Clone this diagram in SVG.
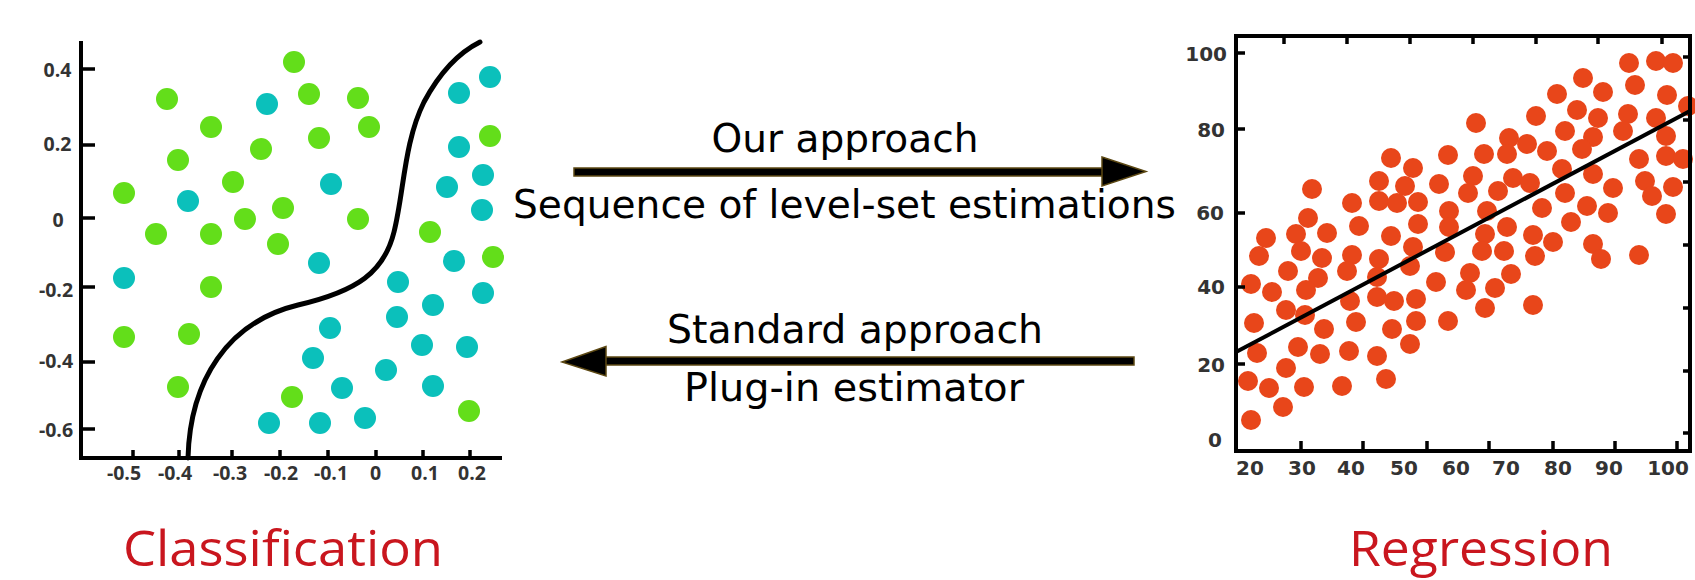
<svg xmlns="http://www.w3.org/2000/svg" width="1695" height="580" viewBox="0 0 1695 580">
<style>
.ax{stroke:#000;stroke-width:4;fill:none;stroke-linecap:square}
.tk{stroke:#000;stroke-width:3.5;fill:none}
.g{fill:#63DE1A}
.t{fill:#0BC0BB}
.r{fill:#E8461A}
.cl{font-family:"Open Sans",sans-serif;font-weight:bold;font-size:19.5px;fill:#333;text-anchor:middle}
.rl{font-family:"DejaVu Sans",sans-serif;font-weight:bold;font-size:20px;fill:#333}
.lab{font-family:"DejaVu Sans",sans-serif;font-size:39px;fill:#000;text-anchor:middle}
.title{font-family:"Open Sans",sans-serif;font-size:49px;fill:#C9161E}
.shaft{fill:#000;stroke:#5C4813;stroke-width:1.5}
</style>
<rect width="1695" height="580" fill="#fff"/>

<g id="classification">
  <g id="class-dots-green">
    <circle class="g" cx="167" cy="99" r="11"/><circle class="g" cx="211" cy="127" r="11"/>
    <circle class="g" cx="178" cy="160" r="11"/><circle class="g" cx="124" cy="193" r="11"/>
    <circle class="g" cx="233" cy="182" r="11"/><circle class="g" cx="245" cy="219" r="11"/>
    <circle class="g" cx="156" cy="234" r="11"/><circle class="g" cx="211" cy="234" r="11"/>
    <circle class="g" cx="294" cy="62" r="11"/><circle class="g" cx="309" cy="94" r="11"/>
    <circle class="g" cx="358" cy="98" r="11"/><circle class="g" cx="369" cy="127" r="11"/>
    <circle class="g" cx="319" cy="138" r="11"/><circle class="g" cx="261" cy="149" r="11"/>
    <circle class="g" cx="283" cy="208" r="11"/><circle class="g" cx="358" cy="219" r="11"/>
    <circle class="g" cx="278" cy="244" r="11"/><circle class="g" cx="490" cy="136" r="11"/>
    <circle class="g" cx="430" cy="232" r="11"/><circle class="g" cx="211" cy="287" r="11"/>
    <circle class="g" cx="124" cy="337" r="11"/><circle class="g" cx="189" cy="334" r="11"/>
    <circle class="g" cx="178" cy="387" r="11"/><circle class="g" cx="493" cy="257" r="11"/>
    <circle class="g" cx="292" cy="397" r="11"/><circle class="g" cx="469" cy="411" r="11"/>
  </g>
  <g id="class-dots-teal">
    <circle class="t" cx="267" cy="104" r="11"/><circle class="t" cx="188" cy="201" r="11"/>
    <circle class="t" cx="331" cy="184" r="11"/><circle class="t" cx="459" cy="93" r="11"/>
    <circle class="t" cx="490" cy="77" r="11"/><circle class="t" cx="459" cy="147" r="11"/>
    <circle class="t" cx="483" cy="175" r="11"/><circle class="t" cx="447" cy="187" r="11"/>
    <circle class="t" cx="482" cy="210" r="11"/><circle class="t" cx="124" cy="278" r="11"/>
    <circle class="t" cx="319" cy="263" r="11"/><circle class="t" cx="398" cy="282" r="11"/>
    <circle class="t" cx="454" cy="261" r="11"/><circle class="t" cx="483" cy="293" r="11"/>
    <circle class="t" cx="433" cy="305" r="11"/><circle class="t" cx="397" cy="317" r="11"/>
    <circle class="t" cx="330" cy="328" r="11"/><circle class="t" cx="422" cy="345" r="11"/>
    <circle class="t" cx="467" cy="347" r="11"/><circle class="t" cx="313" cy="358" r="11"/>
    <circle class="t" cx="386" cy="370" r="11"/><circle class="t" cx="342" cy="388" r="11"/>
    <circle class="t" cx="433" cy="386" r="11"/><circle class="t" cx="269" cy="423" r="11"/>
    <circle class="t" cx="320" cy="423" r="11"/><circle class="t" cx="365" cy="418" r="11"/>
  </g>
  <path id="boundary" d="M188,458 C190,380 228,322 298,305 C358,291 384,272 394,232 C404,192 404,142 424,102 C440,72 460,52 480,42" fill="none" stroke="#000" stroke-width="5" stroke-linecap="round"/>
  <g id="class-axes">
    <path class="ax" d="M81,43 V458 H500"/>
    <path class="tk" d="M81,69 H95 M81,145 H95 M81,218 H95 M81,287 H95 M81,362 H95 M81,429 H95"/>
    <path class="tk" d="M133,458 V450 M179,458 V450 M232,458 V450 M280,458 V450 M328,458 V450 M376,458 V450 M423,458 V450 M470,458 V450"/>
  </g>
  <g id="class-ylabels">
    <text class="cl" x="57.5" y="77">0.4</text>
    <text class="cl" x="57.5" y="151">0.2</text>
    <text class="cl" x="58" y="227">0</text>
    <text class="cl" x="56" y="297">-0.2</text>
    <text class="cl" x="56" y="368">-0.4</text>
    <text class="cl" x="56" y="437">-0.6</text>
  </g>
  <g id="class-xlabels">
    <text class="cl" x="124" y="480">-0.5</text>
    <text class="cl" x="175" y="480">-0.4</text>
    <text class="cl" x="230" y="480">-0.3</text>
    <text class="cl" x="281" y="480">-0.2</text>
    <text class="cl" x="331" y="480">-0.1</text>
    <text class="cl" x="375.5" y="480">0</text>
    <text class="cl" x="425" y="480">0.1</text>
    <text class="cl" x="472" y="480">0.2</text>
  </g>
  <text id="class-title" class="title" x="123" y="566" textLength="320" lengthAdjust="spacingAndGlyphs">Classification</text>
</g>

<g id="regression">
  <g id="reg-dots">
    <circle class="r" cx="1391" cy="158" r="10"/><circle class="r" cx="1413" cy="168" r="10"/><circle class="r" cx="1379" cy="181" r="10"/>
    <circle class="r" cx="1405" cy="186" r="10"/><circle class="r" cx="1312" cy="189" r="10"/><circle class="r" cx="1439" cy="184" r="10"/>
    <circle class="r" cx="1379" cy="201" r="10"/><circle class="r" cx="1397" cy="203" r="10"/><circle class="r" cx="1418" cy="202" r="10"/>
    <circle class="r" cx="1352" cy="203" r="10"/><circle class="r" cx="1308" cy="218" r="10"/><circle class="r" cx="1359" cy="226" r="10"/>
    <circle class="r" cx="1418" cy="224" r="10"/><circle class="r" cx="1266" cy="238" r="10"/><circle class="r" cx="1296" cy="234" r="10"/>
    <circle class="r" cx="1327" cy="233" r="10"/><circle class="r" cx="1391" cy="236" r="10"/>
    <circle class="r" cx="1629" cy="63" r="10"/><circle class="r" cx="1656" cy="61" r="10"/><circle class="r" cx="1673" cy="63" r="10"/>
    <circle class="r" cx="1583" cy="78" r="10"/><circle class="r" cx="1635" cy="85" r="10"/><circle class="r" cx="1557" cy="94" r="10"/>
    <circle class="r" cx="1603" cy="92" r="10"/><circle class="r" cx="1667" cy="95" r="10"/><circle class="r" cx="1688" cy="106" r="10"/>
    <circle class="r" cx="1476" cy="123" r="10"/><circle class="r" cx="1536" cy="116" r="10"/><circle class="r" cx="1577" cy="110" r="10"/>
    <circle class="r" cx="1598" cy="118" r="10"/><circle class="r" cx="1628" cy="114" r="10"/><circle class="r" cx="1656" cy="118" r="10"/>
    <circle class="r" cx="1509" cy="138" r="10"/><circle class="r" cx="1527" cy="144" r="10"/><circle class="r" cx="1565" cy="131" r="10"/>
    <circle class="r" cx="1593" cy="137" r="10"/><circle class="r" cx="1623" cy="131" r="10"/><circle class="r" cx="1666" cy="136" r="10"/>
    <circle class="r" cx="1448" cy="155" r="10"/><circle class="r" cx="1484" cy="154" r="10"/><circle class="r" cx="1507" cy="154" r="10"/>
    <circle class="r" cx="1547" cy="151" r="10"/><circle class="r" cx="1582" cy="149" r="10"/><circle class="r" cx="1639" cy="159" r="10"/>
    <circle class="r" cx="1666" cy="156" r="10"/><circle class="r" cx="1683" cy="159" r="10"/><circle class="r" cx="1473" cy="176" r="10"/>
    <circle class="r" cx="1513" cy="178" r="10"/><circle class="r" cx="1530" cy="183" r="10"/><circle class="r" cx="1562" cy="169" r="10"/>
    <circle class="r" cx="1593" cy="174" r="10"/><circle class="r" cx="1468" cy="193" r="10"/><circle class="r" cx="1498" cy="191" r="10"/>
    <circle class="r" cx="1565" cy="193" r="10"/><circle class="r" cx="1613" cy="188" r="10"/><circle class="r" cx="1645" cy="181" r="10"/>
    <circle class="r" cx="1652" cy="196" r="10"/><circle class="r" cx="1673" cy="187" r="10"/><circle class="r" cx="1449" cy="211" r="10"/>
    <circle class="r" cx="1487" cy="211" r="10"/><circle class="r" cx="1542" cy="208" r="10"/><circle class="r" cx="1587" cy="206" r="10"/>
    <circle class="r" cx="1608" cy="213" r="10"/><circle class="r" cx="1666" cy="214" r="10"/><circle class="r" cx="1449" cy="227" r="10"/>
    <circle class="r" cx="1485" cy="234" r="10"/><circle class="r" cx="1507" cy="227" r="10"/><circle class="r" cx="1533" cy="235" r="10"/>
    <circle class="r" cx="1553" cy="242" r="10"/><circle class="r" cx="1571" cy="222" r="10"/><circle class="r" cx="1593" cy="244" r="10"/>
    <circle class="r" cx="1445" cy="252" r="10"/><circle class="r" cx="1482" cy="251" r="10"/><circle class="r" cx="1504" cy="251" r="10"/>
    <circle class="r" cx="1535" cy="256" r="10"/><circle class="r" cx="1601" cy="259" r="10"/><circle class="r" cx="1639" cy="255" r="10"/>
    <circle class="r" cx="1436" cy="282" r="10"/><circle class="r" cx="1470" cy="273" r="10"/><circle class="r" cx="1466" cy="290" r="10"/>
    <circle class="r" cx="1495" cy="288" r="10"/><circle class="r" cx="1511" cy="274" r="10"/><circle class="r" cx="1485" cy="308" r="10"/>
    <circle class="r" cx="1533" cy="305" r="10"/><circle class="r" cx="1448" cy="321" r="10"/>
    <circle class="r" cx="1259" cy="256" r="10"/><circle class="r" cx="1301" cy="251" r="10"/><circle class="r" cx="1322" cy="258" r="10"/>
    <circle class="r" cx="1352" cy="255" r="10"/><circle class="r" cx="1379" cy="259" r="10"/><circle class="r" cx="1413" cy="247" r="10"/>
    <circle class="r" cx="1288" cy="271" r="10"/><circle class="r" cx="1318" cy="278" r="10"/><circle class="r" cx="1347" cy="271" r="10"/>
    <circle class="r" cx="1377" cy="277" r="10"/><circle class="r" cx="1410" cy="266" r="10"/><circle class="r" cx="1251" cy="284" r="10"/>
    <circle class="r" cx="1272" cy="292" r="10"/><circle class="r" cx="1306" cy="290" r="10"/><circle class="r" cx="1350" cy="301" r="10"/>
    <circle class="r" cx="1377" cy="297" r="10"/><circle class="r" cx="1394" cy="301" r="10"/><circle class="r" cx="1416" cy="299" r="10"/>
    <circle class="r" cx="1286" cy="310" r="10"/><circle class="r" cx="1305" cy="315" r="10"/><circle class="r" cx="1254" cy="323" r="10"/>
    <circle class="r" cx="1324" cy="329" r="10"/><circle class="r" cx="1356" cy="322" r="10"/><circle class="r" cx="1392" cy="329" r="10"/>
    <circle class="r" cx="1416" cy="321" r="10"/><circle class="r" cx="1257" cy="353" r="10"/><circle class="r" cx="1298" cy="347" r="10"/>
    <circle class="r" cx="1320" cy="354" r="10"/><circle class="r" cx="1349" cy="351" r="10"/><circle class="r" cx="1377" cy="356" r="10"/>
    <circle class="r" cx="1410" cy="344" r="10"/><circle class="r" cx="1248" cy="381" r="10"/><circle class="r" cx="1269" cy="388" r="10"/>
    <circle class="r" cx="1286" cy="368" r="10"/><circle class="r" cx="1304" cy="387" r="10"/><circle class="r" cx="1342" cy="386" r="10"/>
    <circle class="r" cx="1386" cy="379" r="10"/><circle class="r" cx="1283" cy="407" r="10"/><circle class="r" cx="1251" cy="420" r="10"/>
  </g>
  <line id="fit-line" x1="1236" y1="352" x2="1690" y2="111" stroke="#000" stroke-width="4"/>
  <g id="reg-axes">
    <rect class="ax" x="1236" y="36" width="454" height="415"/>
    <path class="tk" d="M1236,53 H1245 M1236,129 H1245 M1236,213 H1245 M1236,287 H1245 M1236,364 H1245"/>
    <path class="tk" d="M1284,36 V44 M1347,36 V44 M1410,36 V44 M1473,36 V44 M1536,36 V44 M1598,36 V44 M1662,36 V44"/>
    <path class="tk" d="M1301,451 V441 M1363,451 V441 M1427,451 V441 M1489,451 V441 M1553,451 V441 M1615,451 V441 M1677,451 V441"/>
    <path class="tk" d="M1690,57 H1683 M1690,120 H1683 M1690,182 H1683 M1690,245 H1683 M1690,308 H1683 M1690,371 H1683 M1690,433 H1683"/>
  </g>
  <g id="reg-ylabels" text-anchor="end">
    <text class="rl" x="1227" y="61">100</text>
    <text class="rl" x="1225" y="137">80</text>
    <text class="rl" x="1224" y="220">60</text>
    <text class="rl" x="1225" y="294">40</text>
    <text class="rl" x="1225" y="372">20</text>
    <text class="rl" x="1222" y="447">0</text>
  </g>
  <g id="reg-xlabels" text-anchor="middle">
    <text class="rl" x="1250" y="475">20</text>
    <text class="rl" x="1302" y="475">30</text>
    <text class="rl" x="1351" y="475">40</text>
    <text class="rl" x="1404" y="475">50</text>
    <text class="rl" x="1456" y="475">60</text>
    <text class="rl" x="1506" y="475">70</text>
    <text class="rl" x="1558" y="475">80</text>
    <text class="rl" x="1609" y="475">90</text>
    <text class="rl" x="1668" y="475">100</text>
  </g>
  <text id="reg-title" class="title" x="1349" y="566" textLength="264" lengthAdjust="spacingAndGlyphs">Regression</text>
</g>

<g id="connectors">
  <g id="arrow-our">
    <rect class="shaft" x="574" y="168" width="530" height="8"/>
    <polygon class="shaft" points="1102,157 1146,171.5 1102,186"/>
  </g>
  <g id="arrow-standard">
    <rect class="shaft" x="604" y="357" width="530" height="8"/>
    <polygon class="shaft" points="606,346.5 562,362 606,376"/>
  </g>
  <text class="lab" x="845" y="152" textLength="267" lengthAdjust="spacingAndGlyphs">Our approach</text>
  <text class="lab" x="844.5" y="218" textLength="663" lengthAdjust="spacingAndGlyphs">Sequence of level-set estimations</text>
  <text class="lab" x="855" y="343" textLength="376" lengthAdjust="spacingAndGlyphs">Standard approach</text>
  <text class="lab" x="854" y="401" textLength="340" lengthAdjust="spacingAndGlyphs">Plug-in estimator</text>
</g>
</svg>
